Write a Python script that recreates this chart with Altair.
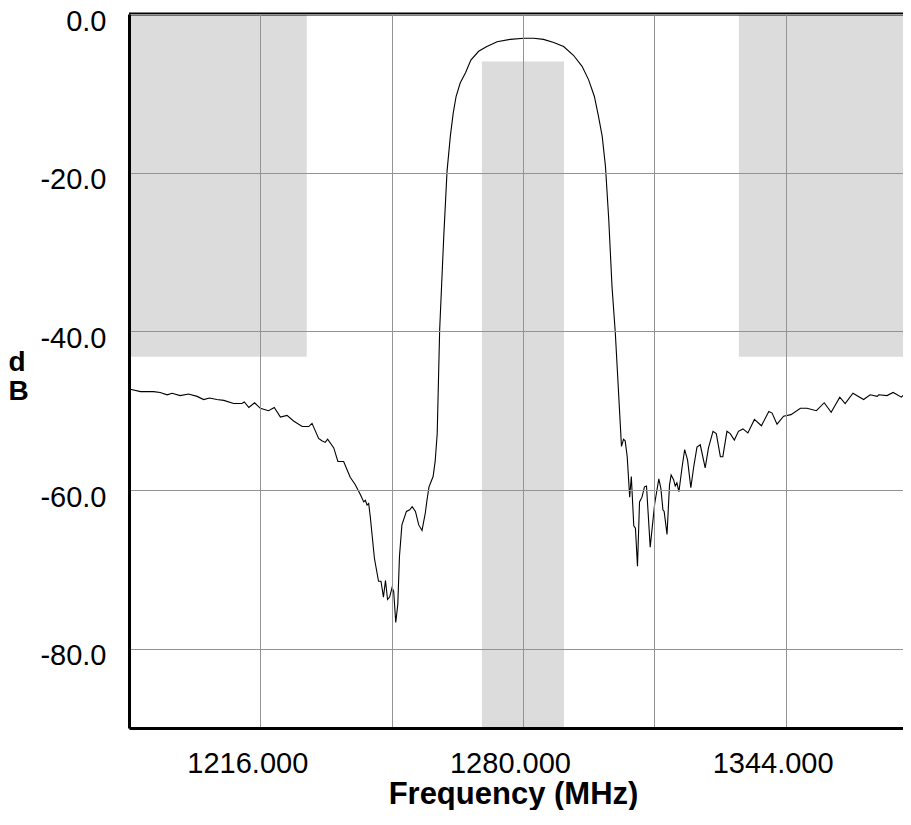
import altair as alt
import pandas as pd

# Measured filter response (frequency in MHz, level in dB)
freq = [
    1184.3, 1186.8, 1190.0, 1191.6, 1193.3, 1194.5, 1196.5, 1198.5, 1200.6, 1202.2,
    1203.6, 1205.4, 1207.1, 1209.5, 1211.5, 1212.1, 1213.2, 1214.6, 1216.0, 1218.0,
    1219.4, 1220.9, 1222.5, 1224.1, 1226.2, 1227.8, 1228.6, 1230.2, 1231.0, 1231.8,
    1232.4, 1233.9, 1234.9, 1236.3, 1237.9, 1239.1, 1240.4, 1241.2, 1241.6, 1242.0,
    1242.4, 1242.8, 1243.8, 1244.8, 1245.4, 1246.0, 1246.5, 1247.0, 1247.5, 1248.1,
    1248.5, 1249.0, 1249.5, 1249.9, 1250.5, 1251.6, 1252.4, 1253.0, 1253.8, 1254.6,
    1255.4, 1256.2, 1256.6, 1257.1, 1258.1, 1258.6, 1259.1, 1259.7, 1260.7, 1261.5,
    1262.3, 1263.0, 1263.7, 1264.7, 1266.0, 1267.3, 1269.2, 1271.2, 1273.7, 1276.9,
    1280.2, 1282.6, 1285.0, 1287.5, 1289.9, 1292.3, 1294.4, 1296.0, 1297.4, 1298.4,
    1299.3, 1300.1, 1300.9, 1301.7, 1302.5, 1303.3, 1304.0, 1304.5, 1304.9, 1305.4,
    1306.0, 1306.4, 1307.0, 1307.4, 1307.9, 1308.4, 1309.0, 1309.6, 1310.1, 1311.0,
    1312.1, 1313.1, 1313.6, 1314.1, 1314.4, 1315.1, 1315.7, 1316.1, 1316.7, 1317.1,
    1317.5, 1318.0, 1318.8, 1319.4, 1320.1, 1320.9, 1321.6, 1322.4, 1323.2, 1324.4,
    1325.2, 1326.3, 1327.1, 1328.1, 1328.7, 1329.7, 1330.5, 1331.5, 1332.5, 1333.6,
    1334.8, 1336.4, 1338.1, 1339.9, 1340.7, 1341.9, 1343.5, 1345.3, 1347.6, 1349.2,
    1351.5, 1353.4, 1355.1, 1357.2, 1358.5, 1360.4, 1363.0, 1364.6, 1366.3, 1366.7,
    1368.7, 1370.2, 1372.2, 1374.2,
]
level_db = [
    -47.3, -47.6, -47.6, -47.7, -48.0, -47.8, -48.1, -47.9, -48.2, -48.6,
    -48.4, -48.6, -48.7, -49.1, -49.1, -48.9, -49.6, -49.0, -49.7, -50.0,
    -49.6, -50.8, -50.6, -51.3, -52.0, -52.0, -51.6, -53.5, -53.8, -54.0,
    -53.6, -54.7, -56.4, -56.4, -58.4, -59.3, -60.6, -61.5, -61.3, -61.9,
    -61.7, -63.4, -68.6, -71.5, -71.5, -73.5, -71.4, -73.8, -73.5, -72.3,
    -72.8, -76.7, -74.4, -68.4, -64.4, -62.7, -62.5, -62.1, -62.7, -64.4,
    -65.1, -62.9, -61.3, -59.6, -58.3, -56.4, -52.9, -39.8, -28.0, -19.8,
    -15.4, -12.5, -10.4, -8.7, -7.4, -5.8, -4.7, -4.1, -3.5, -3.2,
    -3.05, -3.05, -3.2, -3.6, -4.1, -5.2, -6.6, -8.3, -10.4, -12.9,
    -15.4, -19.2, -25.9, -34.4, -40.2, -47.8, -54.5, -53.6, -53.8, -55.8,
    -60.9, -58.3, -64.5, -64.8, -69.6, -61.5, -60.9, -59.6, -59.5, -67.2,
    -61.7, -58.6, -59.8, -62.5, -62.7, -65.6, -59.4, -58.1, -58.7, -59.5,
    -59.1, -60.2, -57.0, -54.9, -56.2, -59.7, -57.1, -54.6, -54.3, -57.2,
    -54.7, -52.6, -52.9, -55.8, -55.8, -52.6, -52.9, -53.7, -52.6, -52.3,
    -52.8, -51.1, -51.9, -50.1, -50.3, -51.7, -50.7, -50.5, -49.7, -49.7,
    -50.0, -49.0, -50.2, -48.3, -49.1, -47.8, -48.6, -48.0, -48.2, -48.0,
    -48.1, -47.7, -48.3, -47.3,
]

# Specification mask regions (gray)
mask_f1 = [1184.0, 1270.0, 1332.6]
mask_f2 = [1227.3, 1290.0, 1376.0]
mask_top = [0.0, -6.0, 0.0]
mask_bottom = [-43.2, -90.0, -43.2]

x_grid_values = [1184, 1216, 1248, 1280, 1312, 1344]
y_grid_values = [0, -20, -40, -60, -80]
x_domain = [1184, 1372.6]
y_domain = [-90, 0]

curve = pd.DataFrame({"f": freq, "db": level_db})
masks = pd.DataFrame({"f1": mask_f1, "f2": mask_f2, "top": mask_top, "bottom": mask_bottom})
frame = pd.DataFrame({"v": [0]})

FONT = "Liberation Sans"

xscale = alt.Scale(domain=x_domain, nice=False, zero=False)
yscale = alt.Scale(domain=y_domain, nice=False, zero=False)

x_axis = alt.Axis(
    values=x_grid_values,
    labelExpr="datum.value % 64 == 0 ? format(datum.value, '.3f') : ''",
    title="Frequency (MHz)",
    titleFont=FONT, titleFontSize=31, titleFontWeight="bold", titleColor="black",
    titleX=384, titleY=75, titleAlign="center", titleBaseline="alphabetic",
    labelFont=FONT, labelFontSize=29, labelColor="black", labelPadding=21,
    labelOffset=-13, labelFlush=False, labelOverlap=False,
    ticks=False, tickSize=0,
    domain=True, domainColor="black", domainWidth=3,
    grid=True, gridColor="#939393", gridWidth=1,
    zindex=1,
)
y_axis = alt.Axis(
    values=y_grid_values,
    labelExpr="datum.value == 0 ? '0.0' : '-' + format(-datum.value, '.1f')",
    title=["d", "B"],
    titleFont=FONT, titleFontSize=28, titleFontWeight="bold", titleColor="black",
    titleAngle=0, titleX=-121, titleY=356, titleAlign="left", titleBaseline="alphabetic",
    titleLineHeight=29,
    labelFont=FONT, labelFontSize=29, labelColor="black", labelPadding=23, labelOffset=7,
    labelFlush=False, labelOverlap=False,
    ticks=False, tickSize=0,
    domain=True, domainColor="black", domainWidth=3,
    grid=True, gridColor="#939393", gridWidth=1,
    zindex=1,
)

mask_layer = alt.Chart(masks).mark_rect(color="#DCDCDC", clip=True).encode(
    x=alt.X("f1:Q", scale=xscale, axis=x_axis),
    x2="f2:Q",
    y=alt.Y("top:Q", scale=yscale, axis=y_axis),
    y2="bottom:Q",
)

top_border = alt.Chart(frame).mark_rule(color="black", strokeWidth=3).encode(
    y=alt.datum(0),
)

line_layer = alt.Chart(curve).mark_line(color="black", strokeWidth=1.1, clip=True).encode(
    x=alt.X("f:Q", scale=xscale, axis=x_axis),
    y=alt.Y("db:Q", scale=yscale, axis=y_axis),
)

chart = alt.layer(mask_layer, top_border, line_layer).properties(
    width=774,
    height=714,
    padding={"left": 121, "top": 6, "right": 0, "bottom": 82},
    autosize=alt.AutoSizeParams(type="none"),
    background="white",
).configure_view(stroke=None)

chart.save("out.html", embed_options={"renderer": "svg", "actions": False})
